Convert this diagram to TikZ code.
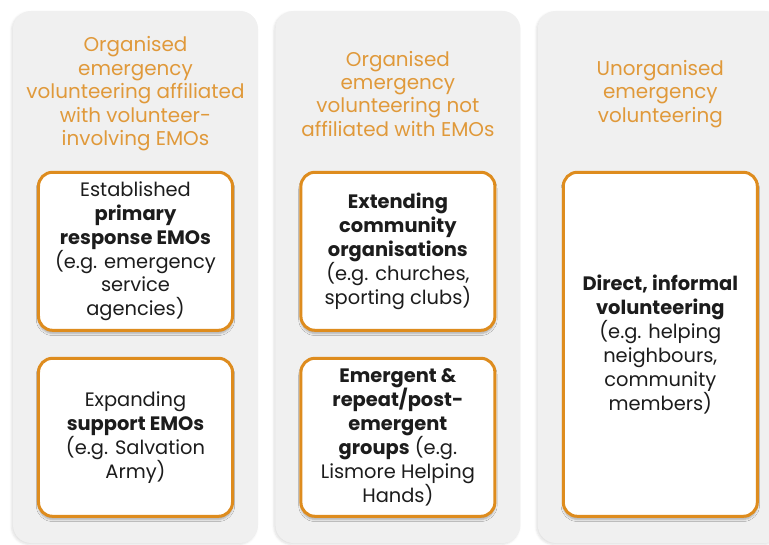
\documentclass[tikz,border=0pt]{standalone}
\usepackage{fontspec}
\setmainfont{Poppins}
\usepackage{tikz}
\usetikzlibrary{calc, positioning, shadows.blur}
\usepackage{xcolor}
\definecolor{EmoOrange}{HTML}{DE8C1E}
\definecolor{TitleOrange}{HTML}{E0993A}
\definecolor{PanelGray}{HTML}{F0F0F0}
\definecolor{TextBlack}{HTML}{1C1C1C}
\tikzset{%
  panel/.style={%
    rectangle,%
    rounded corners=18bp,%
    fill=PanelGray,%
    minimum width=245bp,%
    minimum height=532bp,%
    blur shadow={shadow xshift=-1.5bp, shadow yshift=-1.5bp,
      shadow opacity=12, shadow blur steps=4},%
  },
  panel_title/.style={%
    color=TitleOrange,%
    font={\fontsize{20}{23.5}\selectfont},%
    align=center,%
  },
  emo_block/.style={%
    draw=EmoOrange,%
    line width=3bp,%
    rectangle,%
    rounded corners=14bp,%
    fill=white,%
    minimum width=194bp,%
    minimum height=158bp,%
    text=TextBlack,%
    font={\fontsize{19.5}{24}\selectfont},%
    align=center,%
    blur shadow={shadow xshift=0bp, shadow yshift=-3bp,
      shadow opacity=30, shadow blur steps=5},%
  },
}

\begin{document}
\begin{tikzpicture}[x=1bp, y=1bp]
    \useasboundingbox (0,0) rectangle (769,545);

    % three columns
    \node[panel] (Affiliated) at (135.5,268) {};
    \node[panel, right = 17 of Affiliated] (NotAffiliated) {};
    \node[panel, right = 17 of NotAffiliated] (Unorganised) {};

    % column headings
    \node[panel_title] (AffiliatedTitle) at ($(Affiliated.north)+(0,-83)$)
      {Organised\\emergency\\volunteering affiliated\\with volunteer-\\involving EMOs};
    \node[panel_title] (NotAffiliatedTitle) at ($(NotAffiliated.north)+(0,-83)$)
      {Organised\\emergency\\volunteering not\\affiliated with EMOs};
    \node[panel_title] (UnorganisedTitle) at ($(Unorganised.north)+(0,-83)$)
      {Unorganised\\emergency\\volunteering};

    % boxes
    \node[emo_block, below = 160 of Affiliated.north] (Primary)
      {Established\\\textbf{primary}\\\textbf{response EMOs}\\(e.g. emergency\\service\\agencies)};
    \node[emo_block, below = 25 of Primary] (Support)
      {Expanding\\\textbf{support EMOs}\\(e.g. Salvation\\Army)};
    \node[emo_block, below = 160 of NotAffiliated.north] (Extending)
      {\textbf{Extending}\\\textbf{community}\\\textbf{organisations}\\(e.g. churches,\\sporting clubs)};
    \node[emo_block, below = 25 of Extending] (Emergent)
      {\textbf{Emergent \&}\\\textbf{repeat/post-}\\\textbf{emergent}\\\textbf{groups} (e.g.\\Lismore Helping\\Hands)};
    \node[emo_block, minimum height=344bp, below = 160 of Unorganised.north] (Direct)
      {\textbf{Direct, informal}\\\textbf{volunteering}\\(e.g. helping\\neighbours,\\community\\members)};

  \end{tikzpicture}
\end{document}
